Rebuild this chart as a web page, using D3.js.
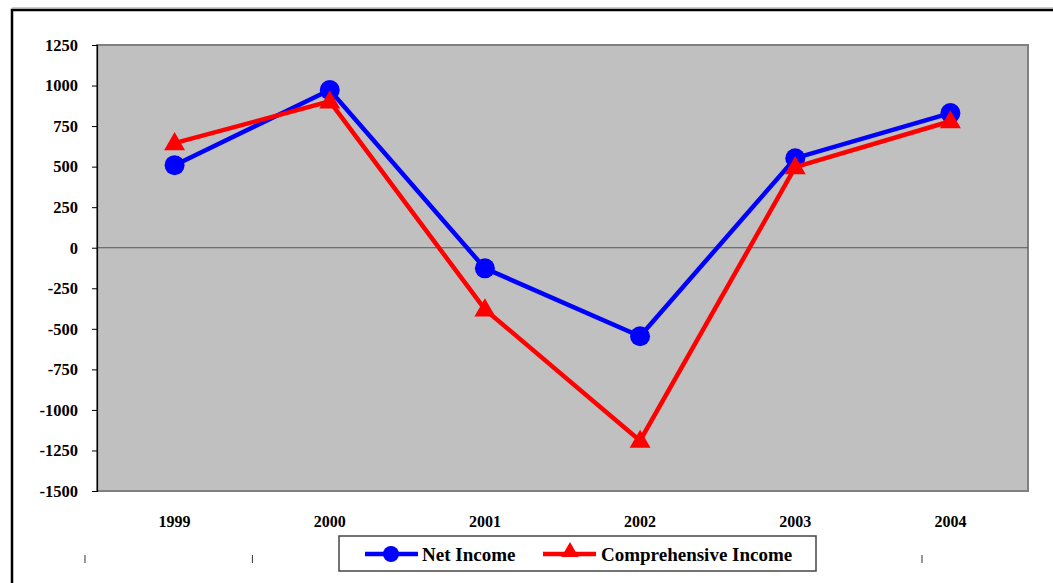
<!DOCTYPE html>
<html><head><meta charset="utf-8">
<script src="https://cdn.jsdelivr.net/npm/d3@7"></script>
<style>body{margin:0;background:#fff}svg{display:block}</style>
</head><body>
<svg id="c" width="1053" height="583"></svg>
<script>
const years = ["1999","2000","2001","2002","2003","2004"];
const netIncome = [509, 972, -127, -546, 552, 830];
const comprehensiveIncome = [645, 902, -380, -1190, 497, 780];
const yTicks = [1250,1000,750,500,250,0,-250,-500,-750,-1000,-1250,-1500];
const seriesNames = ["Net Income","Comprehensive Income"];

const FONT = "'Liberation Serif', 'Times New Roman', Times, serif";
const svg = d3.select("#c");
const L=97, R=1028, T=45, B=491;
svg.append("rect").attr("x",12).attr("y",10).attr("width",1060).attr("height",600)
  .attr("fill","#fff").attr("stroke","#000").attr("stroke-width",2.5);
svg.append("line").attr("x1",12).attr("x2",1053).attr("y1",8).attr("y2",8).attr("stroke","#999").attr("stroke-width",1);

const x = d3.scaleBand().domain(years).range([L,R]);
const y = d3.scaleLinear().domain([-1500,1250]).range([B,T]);

svg.append("rect").attr("x",L).attr("y",T).attr("width",R-L).attr("height",B-T)
  .attr("fill","#c0c0c0").attr("stroke","#808080").attr("stroke-width",2);
svg.append("line").attr("x1",L).attr("x2",R).attr("y1",y(0)).attr("y2",y(0)).attr("stroke","#555").attr("stroke-width",1.2);

const ya = svg.append("g").attr("transform",`translate(${L},0)`)
  .call(d3.axisLeft(y).tickValues(yTicks).tickSize(5).tickPadding(14).tickFormat(d=>String(d)));
ya.attr("font-family",null).attr("font-size",null);
ya.select(".domain").attr("stroke","#000").attr("stroke-width",1.2);
ya.selectAll(".tick line").attr("stroke","#000");
ya.selectAll("text").style("font-family",FONT).style("font-weight","bold").style("font-size","16.5px").attr("dy","0.32em");

const xa = svg.append("g").attr("transform",`translate(0,${B})`)
  .call(d3.axisBottom(x).tickSize(0).tickPadding(25));
xa.attr("font-family",null).attr("font-size",null);
xa.select(".domain").remove();
xa.selectAll("text").style("font-family",FONT).style("font-weight","bold").style("font-size","16px");

const stray = d3.scalePoint().domain(d3.range(6)).range([85,922]);
svg.append("g").selectAll("line").data(d3.range(6)).join("line")
  .attr("x1",d=>stray(d)).attr("x2",d=>stray(d)).attr("y1",555).attr("y2",563)
  .attr("stroke","#333").attr("stroke-width",1);

const cx = d => x(d) + x.bandwidth()/2;
const line = d3.line().x((d,i)=>cx(years[i])).y(d=>y(d));

svg.append("path").datum(netIncome).attr("d",line).attr("fill","none").attr("stroke","#0000ff").attr("stroke-width",4.5);
svg.append("g").selectAll("circle").data(netIncome).join("circle")
  .attr("cx",(d,i)=>cx(years[i])).attr("cy",d=>y(d)).attr("r",10).attr("fill","#0000ff");

svg.append("path").datum(comprehensiveIncome).attr("d",line).attr("fill","none").attr("stroke","#ff0000").attr("stroke-width",4.5);
const tri = d3.symbol().type(d3.symbolTriangle).size(190);
svg.append("g").selectAll("path").data(comprehensiveIncome).join("path")
  .attr("d",tri).attr("transform",(d,i)=>`translate(${cx(years[i])},${y(d)+1})`).attr("fill","#ff0000");

const lg = svg.append("g");
lg.append("rect").attr("x",339).attr("y",536).attr("width",477).attr("height",35)
  .attr("fill","#fff").attr("stroke","#444").attr("stroke-width",1.5);
const ly = 554;
lg.append("line").attr("x1",365).attr("x2",418).attr("y1",ly).attr("y2",ly).attr("stroke","#0000ff").attr("stroke-width",4.5);
lg.append("circle").attr("cx",391).attr("cy",ly).attr("r",8).attr("fill","#0000ff");
lg.append("text").attr("x",422).attr("y",ly).attr("dy","0.35em").style("font-family",FONT).style("font-weight","bold").style("font-size","19px").text(seriesNames[0]);
lg.append("line").attr("x1",543).attr("x2",596).attr("y1",ly).attr("y2",ly).attr("stroke","#ff0000").attr("stroke-width",4.5);
lg.append("path").attr("d",d3.symbol().type(d3.symbolTriangle).size(130)).attr("transform",`translate(570,${ly-2})`).attr("fill","#ff0000");
lg.append("text").attr("x",601).attr("y",ly).attr("dy","0.35em").style("font-family",FONT).style("font-weight","bold").style("font-size","19px").text(seriesNames[1]);
</script>
</body></html>
